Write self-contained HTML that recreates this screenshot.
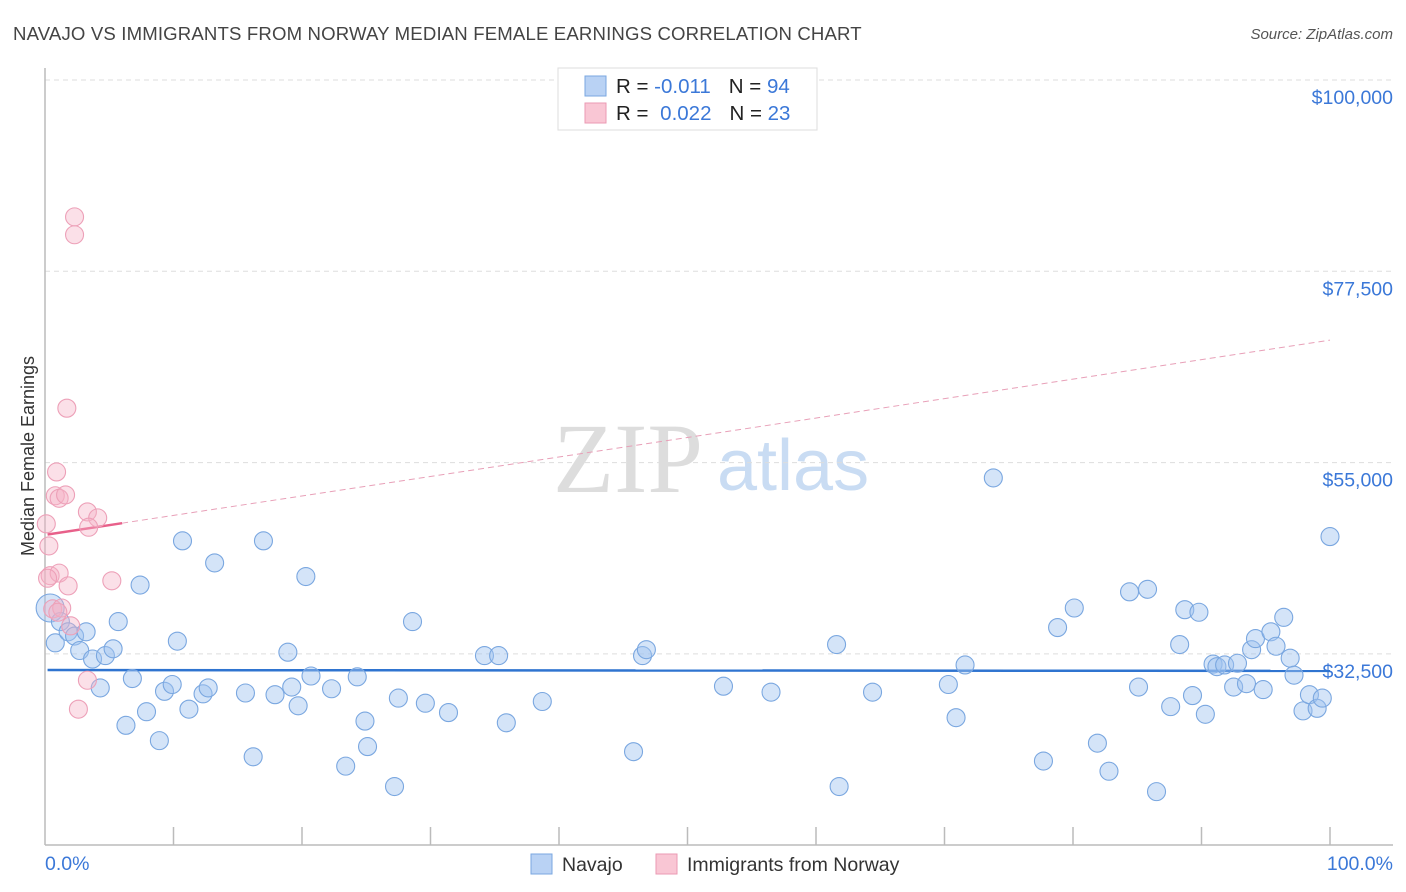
<!DOCTYPE html>
<html><head><meta charset="utf-8">
<style>
body{margin:0;background:#fff;font-family:"Liberation Sans",sans-serif;}
#wrap{position:relative;width:1406px;height:892px;overflow:hidden;}
</style></head>
<body>
<div id="wrap">
<svg id="svg" width="1406" height="892" xmlns="http://www.w3.org/2000/svg">
<text x="13" y="40" font-size="18.6" letter-spacing="0.15" fill="#444">NAVAJO VS IMMIGRANTS FROM NORWAY MEDIAN FEMALE EARNINGS CORRELATION CHART</text>
<text x="1393" y="39" font-size="15" fill="#555" font-style="italic" text-anchor="end">Source: ZipAtlas.com</text>
<text x="34" y="456" font-size="18" fill="#333" text-anchor="middle" transform="rotate(-90 34 456)">Median Female Earnings</text>
<g>
<text x="553" y="492" font-size="100" fill="#ddd" font-family="Liberation Serif, serif">ZIP</text>
<text x="717" y="490" font-size="72" fill="#c9dcf3">atlas</text>
</g>
<g id="grid"></g>
<g id="axes"></g>
<g id="trend"></g>
<g id="pts"></g>
<g>
<rect x="558" y="68" width="259" height="62" fill="#fff" stroke="#ddd"/>
<rect x="585" y="76" width="21" height="20" fill="#b9d2f4" stroke="#7aa7e0"/>
<rect x="585" y="103" width="21" height="20" fill="#f9c6d4" stroke="#eb9ab3"/>
<text x="616" y="93" font-size="20.5" fill="#222">R = <tspan fill="#3b78d8">-0.011</tspan><tspan dx="18">N = </tspan><tspan fill="#3b78d8">94</tspan></text>
<text x="616" y="120" font-size="20.5" fill="#222">R = <tspan fill="#3b78d8" dx="6">0.022</tspan><tspan dx="18">N = </tspan><tspan fill="#3b78d8">23</tspan></text>
</g>
<g>
<rect x="531" y="854" width="21" height="20" fill="#b9d2f4" stroke="#7aa7e0"/>
<text x="562" y="871" font-size="19.5" fill="#333">Navajo</text>
<rect x="656" y="854" width="21" height="20" fill="#f9c6d4" stroke="#eb9ab3"/>
<text x="687" y="871" font-size="19.5" fill="#333">Immigrants from Norway</text>
</g>
</svg>
</div>
<script>
const yTicks=[100000,77500,55000,32500];
const yTickLabels=["$100,000","$77,500","$55,000","$32,500"];
const xTickLabels=["0.0%","100.0%"];
const blueX=[0.4,0.8,1.2,1.8,2.3,3.2,2.7,3.7,4.3,4.7,5.3,5.7,6.3,6.8,7.4,7.9,8.9,9.3,9.9,10.3,10.7,11.2,12.3,12.7,13.2,15.6,16.2,17.0,17.9,18.9,19.2,19.7,20.3,20.7,22.3,23.4,24.3,24.9,25.1,27.2,27.5,28.6,29.6,31.4,34.2,35.3,35.9,38.7,45.8,46.5,46.8,52.8,56.5,61.6,61.8,64.4,70.3,70.9,71.6,73.8,77.7,78.8,80.1,81.9,82.8,84.4,85.1,85.8,86.5,87.6,88.3,88.7,89.3,89.8,90.3,90.9,91.2,91.8,92.5,92.8,93.5,93.9,94.2,94.8,95.4,95.8,96.4,96.9,97.2,97.9,98.4,99.0,99.4,100.0];
const blueY=[37.9,33.8,36.3,35.1,34.6,35.1,32.9,31.9,28.5,32.3,33.1,36.3,24.1,29.6,40.6,25.7,22.3,28.1,28.9,34.0,45.8,26.0,27.8,28.5,43.2,27.9,20.4,45.8,27.7,32.7,28.6,26.4,41.6,29.9,28.4,19.3,29.8,24.6,21.6,16.9,27.3,36.3,26.7,25.6,32.3,32.3,24.4,26.9,21.0,32.3,33.0,28.7,28.0,33.6,16.9,28.0,28.9,25.0,31.2,53.2,19.9,35.6,37.9,22.0,18.7,39.8,28.6,40.1,16.3,26.3,33.6,37.7,27.6,37.4,25.4,31.3,31.0,31.2,28.6,31.4,29.0,33.0,34.3,28.3,35.1,33.4,36.8,32.0,30.0,25.8,27.7,26.1,27.3,46.3];
const pinkX=[2.3,2.3,1.7,0.9,0.8,1.1,1.6,0.1,3.3,4.1,3.4,0.3,0.4,1.1,1.8,5.2,0.6,1.3,2.0,3.3,2.6,1.0,0.2];
const pinkY=[83.9,81.8,61.4,53.9,51.1,50.8,51.2,47.8,49.2,48.5,47.4,45.2,41.7,42.0,40.5,41.1,37.8,37.9,35.8,29.4,26.0,37.4,41.4];
const trendBlue=[30.6,30.5];
const trendPink=[46.5,69.4];

const NS="http://www.w3.org/2000/svg";
const X=p=>45+p*12.85;
const Y=v=>80+(100000-v)/22500*191.3;
const Yk=v=>Y(v*1000);
function mk(t,a,parent){const e=document.createElementNS(NS,t);for(const k in a)e.setAttribute(k,a[k]);document.getElementById(parent).appendChild(e);return e;}

yTicks.forEach((v,i)=>{
  const g=mk('line',{x1:45,x2:1393,y1:Y(v),y2:Y(v),stroke:'#ddd','stroke-dasharray':'5,4'},'grid');
  
  
  const t=mk('text',{x:1393,y:Y(v)+24,'font-size':19.5,fill:'#3b78d8','text-anchor':'end'},'grid');
  t.textContent=yTickLabels[i];
  
  
});
let ax=mk('line',{x1:45,x2:45,y1:68,y2:845,stroke:'#bbb','stroke-width':1.5},'axes');


ax=mk('line',{x1:45,x2:1393,y1:845,y2:845,stroke:'#bbb','stroke-width':1.5},'axes');


for(let i=1;i<=10;i++){
  const t=mk('line',{x1:X(i*10),x2:X(i*10),y1:827,y2:845,stroke:'#bbb','stroke-width':1.5},'axes');
  
  
}
let xl=mk('text',{x:45,y:870,'font-size':19.5,fill:'#3b78d8'},'axes');
xl.textContent=xTickLabels[0];


xl=mk('text',{x:1393,y:870,'font-size':19.5,fill:'#3b78d8','text-anchor':'end'},'axes');
xl.textContent=xTickLabels[1];



let tl=mk('line',{x1:X(0.2),x2:X(100),y1:Yk(trendBlue[0]),y2:Yk(trendBlue[1]),stroke:'#2f74d0','stroke-width':2.5},'trend');


const pAt=p=>trendPink[0]+(trendPink[1]-trendPink[0])*p/100;
tl=mk('line',{x1:X(0.2),x2:X(6),y1:Yk(pAt(0.2)),y2:Yk(pAt(6)),stroke:'#e8608a','stroke-width':2.5},'trend');


tl=mk('line',{x1:X(6),x2:X(100),y1:Yk(pAt(6)),y2:Yk(pAt(100)),stroke:'#e8a0b8','stroke-width':1,'stroke-dasharray':'6,4'},'trend');



blueX.forEach((p,i)=>{
  const c=mk('circle',{cx:X(p),cy:Yk(blueY[i]),r:i===0?14:9,fill:'rgba(160,196,240,0.45)',stroke:'#7aa7e0','stroke-width':1.1},'pts');
  
  
});
pinkX.forEach((p,i)=>{
  const c=mk('circle',{cx:X(p),cy:Yk(pinkY[i]),r:9,fill:'rgba(246,178,198,0.4)',stroke:'#eda0b8','stroke-width':1.1},'pts');
  
  
});
</script>
</body></html>
